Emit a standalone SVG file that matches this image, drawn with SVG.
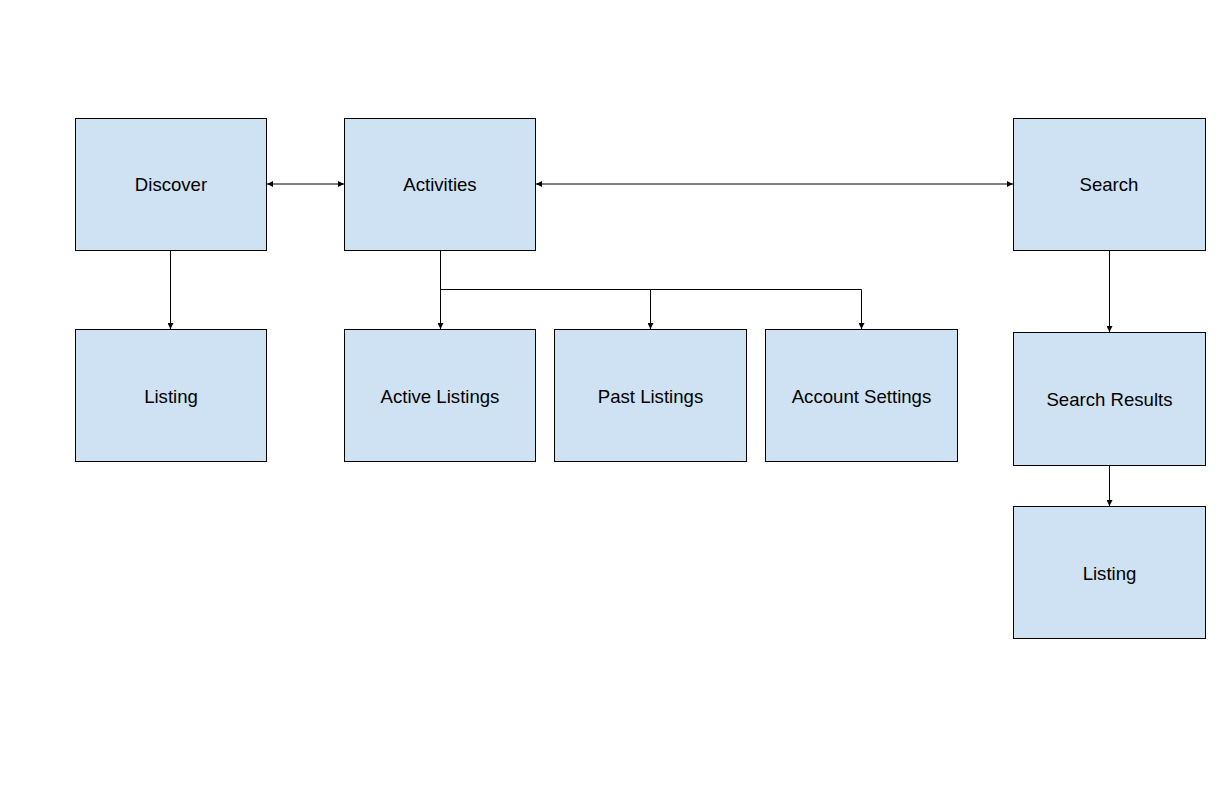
<svg xmlns="http://www.w3.org/2000/svg" width="1223" height="798" viewBox="0 0 1223 798">
<style>
.box{fill:#cfe2f3;stroke:#000;stroke-width:1}
.lbl{font-family:"Liberation Sans",Arial,sans-serif;font-size:18.6px;fill:#000;text-anchor:middle;dominant-baseline:central}
.c{fill:none;stroke:#000;stroke-width:1}
</style>
<defs>
<marker id="ah" markerWidth="6" markerHeight="6" refX="6" refY="3" orient="auto-start-reverse" markerUnits="userSpaceOnUse">
<path d="M0,0 L6,3 L0,6 Z" fill="#000"/>
</marker>
</defs>
<rect width="1223" height="798" fill="#fff"/>
<g id="connectors">
<path class="c" d="M267,184 H344" marker-start="url(#ah)" marker-end="url(#ah)"/>
<path class="c" d="M536,184 H1013" marker-start="url(#ah)" marker-end="url(#ah)"/>
<path class="c" d="M170.5,250 V329" marker-end="url(#ah)"/>
<path class="c" d="M440.5,250 V329" marker-end="url(#ah)"/>
<path class="c" d="M440.5,289.5 H861.5 V329" marker-end="url(#ah)"/>
<path class="c" d="M650.5,289.5 V329" marker-end="url(#ah)"/>
<path class="c" d="M1109.5,250 V332" marker-end="url(#ah)"/>
<path class="c" d="M1109.5,465 V506" marker-end="url(#ah)"/>
</g>
<g id="discover"><rect class="box" x="75.5" y="118.5" width="191" height="132"/><text class="lbl" x="171" y="184.5">Discover</text></g>
<g id="activities"><rect class="box" x="344.5" y="118.5" width="191" height="132"/><text class="lbl" x="440" y="184.5">Activities</text></g>
<g id="search"><rect class="box" x="1013.5" y="118.5" width="192" height="132"/><text class="lbl" x="1109" y="184.5">Search</text></g>
<g id="listing1"><rect class="box" x="75.5" y="329.5" width="191" height="132"/><text class="lbl" x="171" y="396">Listing</text></g>
<g id="active-listings"><rect class="box" x="344.5" y="329.5" width="191" height="132"/><text class="lbl" x="440" y="396">Active Listings</text></g>
<g id="past-listings"><rect class="box" x="554.5" y="329.5" width="192" height="132"/><text class="lbl" x="650.5" y="396">Past Listings</text></g>
<g id="account-settings"><rect class="box" x="765.5" y="329.5" width="192" height="132"/><text class="lbl" x="861.5" y="396">Account Settings</text></g>
<g id="search-results"><rect class="box" x="1013.5" y="332.5" width="192" height="133"/><text class="lbl" x="1109.5" y="399.5">Search Results</text></g>
<g id="listing2"><rect class="box" x="1013.5" y="506.5" width="192" height="132"/><text class="lbl" x="1109.5" y="573">Listing</text></g>
</svg>
